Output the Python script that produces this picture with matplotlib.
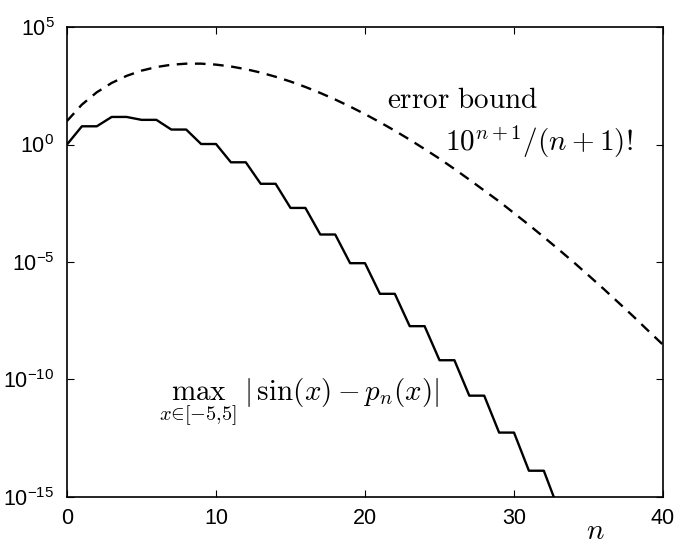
import math
import matplotlib
matplotlib.use("Agg")
import matplotlib.pyplot as plt
from matplotlib.ticker import FixedLocator, FuncFormatter

plt.rcParams['font.family'] = ['Liberation Sans', 'DejaVu Sans']
plt.rcParams['mathtext.fontset'] = 'cm'

# Polynomial degree n
n_vals = list(range(0, 41))

# Error bound 10^(n+1)/(n+1)!
bound = [1.0e1, 5.0e1, 1.67e2, 4.17e2, 8.33e2, 1.39e3, 1.98e3, 2.48e3, 2.76e3, 2.76e3,
         2.51e3, 2.09e3, 1.61e3, 1.15e3, 7.65e2, 4.78e2, 2.81e2, 1.56e2, 8.22e1, 4.11e1,
         1.96e1, 8.9, 3.87, 1.61, 6.4e-1, 2.5e-1, 9.1e-2, 3.2e-2, 1.1e-2, 3.8e-3,
         1.2e-3, 3.8e-4, 1.15e-4, 3.4e-5, 9.8e-6, 2.7e-6, 7.3e-7, 1.9e-7, 4.9e-8, 1.2e-8,
         3.0e-9]

# max |sin(x) - p_n(x)| on [-5, 5] (solid curve)
n_err = list(range(0, 35))
max_err = [1.0, 5.96, 5.96, 14.9, 14.9, 11.2, 11.2, 4.33, 4.33, 1.05,
           1.05, 1.75e-1, 1.75e-1, 2.13e-2, 2.13e-2, 2.0e-3, 2.0e-3, 1.48e-4, 1.48e-4, 8.9e-6,
           8.9e-6, 4.43e-7, 4.43e-7, 1.86e-8, 1.86e-8, 6.6e-10, 6.6e-10, 2.05e-11, 2.05e-11, 5.5e-13,
           5.5e-13, 1.31e-14, 1.31e-14, 2.8e-16, 2.8e-16]

y_ticks = [1e-15, 1e-10, 1e-5, 1e0, 1e5]
x_ticks = [0, 10, 20, 30, 40]

fig = plt.figure(figsize=(6.76, 5.48), dpi=100)
ax = fig.add_axes([0.0991, 0.0931, 0.8817, 0.8576])

ax.semilogy(n_vals, bound, 'k--', linewidth=1.7, dashes=(4.5, 3.2))
ax.semilogy(n_err, max_err, 'k-', linewidth=1.7)

ax.set_xlim(0, 40)
ax.set_ylim(1e-15, 1e5)
ax.xaxis.set_major_locator(FixedLocator(x_ticks))
ax.yaxis.set_major_locator(FixedLocator(y_ticks))
ax.yaxis.set_minor_locator(FixedLocator([]))
ax.yaxis.set_major_formatter(FuncFormatter(
    lambda v, pos: r'$\mathregular{10^{%d}}$' % round(math.log10(v))))
ax.tick_params(direction='in', top=True, right=True, length=5, width=0.8,
               labelsize=15.5)
ax.tick_params(axis='x', pad=8)
ax.tick_params(axis='y', pad=9)
for sp in ax.spines.values():
    sp.set_linewidth(1.2)

ax.text(21.5, 10**1.91, r'$\mathrm{error\ bound}$', fontsize=21, va='center', ha='left')
ax.text(25.4, 10**0.13, r'$10^{n+1}/(n+1)!$', fontsize=21, va='center', ha='left')
ax.text(6.2, 10**-10.98, r'$\max_{x\in[-5{,}5]}\;|\,\sin(x)-p_n(x)|$', fontsize=21,
        va='center', ha='left')

# x-axis label sits low, near the bottom edge, as in the reference
fig.text(595 / 676, 1 - 545 / 548, r'$n$', fontsize=21, ha='center', va='bottom')

fig.savefig('out.png', dpi=100)
